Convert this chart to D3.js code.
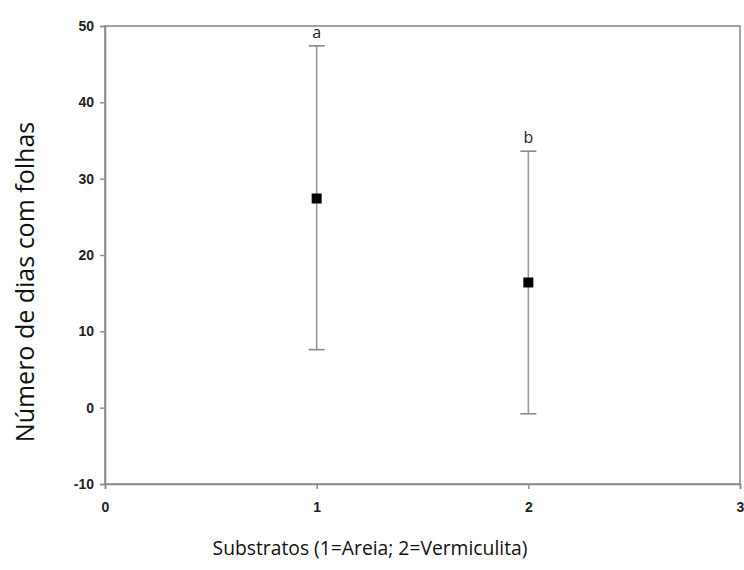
<!DOCTYPE html>
<html>
<head>
<meta charset="utf-8">
<script src="https://cdn.jsdelivr.net/npm/d3@7"></script>
<style>
  body { margin: 0; background: #fff; }
  svg { display: block; }
</style>
</head>
<body>
<svg id="chart"></svg>
<script>
const substrates = [1, 2];
const means = [27.4, 16.4];
const upper = [47.4, 33.6];
const lower = [7.6, -0.8];
const letters = ["a", "b"];
const xTicks = [0, 1, 2, 3];
const yTicks = [-10, 0, 10, 20, 30, 40, 50];

const W = 744, H = 570;
const margin = { top: 26, right: 4, bottom: 86, left: 105 };
const width = W - margin.left - margin.right;
const height = H - margin.top - margin.bottom;

const svg = d3.select("#chart").attr("width", W).attr("height", H);
const g = svg.append("g").attr("transform", `translate(${margin.left},${margin.top})`);

const xScale = d3.scaleLinear().domain([0, 3]).range([0, width]);
const yScale = d3.scaleLinear().domain([-10, 50]).range([height, 0]);

const axisColor = "#8c8c8c";

// frame
g.append("rect")
  .attr("width", width)
  .attr("height", height)
  .attr("fill", "none")
  .attr("stroke", axisColor)
  .attr("stroke-width", 1.6);

const xAxis = d3.axisBottom(xScale).tickValues(xTicks).tickSize(5).tickFormat((d) => String(d));
const yAxis = d3.axisLeft(yScale).tickValues(yTicks).tickSize(5).tickFormat((d) => String(d));

const xg = g.append("g").attr("transform", `translate(0,${height})`).call(xAxis);
const yg = g.append("g").call(yAxis);

[xg, yg].forEach((ax) => {
  ax.select(".domain").attr("stroke", axisColor).attr("stroke-width", 1.6);
  ax.selectAll(".tick line").attr("stroke", axisColor).attr("stroke-width", 1.4);
  ax.selectAll(".tick text")
    .attr("fill", "#222")
    .style("font-family", "Liberation Sans, Arial, sans-serif")
    .style("font-size", "14px")
    .style("font-weight", "bold");
});
xg.selectAll(".tick text").attr("dy", "1.45em");
yg.selectAll(".tick text").attr("x", -11);

// error bars
const capW = 8;
const bars = g.selectAll(".err").data(substrates).enter().append("g").attr("class", "err");
bars.append("line")
  .attr("x1", (d) => xScale(d)).attr("x2", (d) => xScale(d))
  .attr("y1", (d, i) => yScale(upper[i])).attr("y2", (d, i) => yScale(lower[i]))
  .attr("stroke", "#999").attr("stroke-width", 1.6);
bars.append("line")
  .attr("x1", (d) => xScale(d) - capW).attr("x2", (d) => xScale(d) + capW)
  .attr("y1", (d, i) => yScale(upper[i])).attr("y2", (d, i) => yScale(upper[i]))
  .attr("stroke", "#888").attr("stroke-width", 1.6);
bars.append("line")
  .attr("x1", (d) => xScale(d) - capW).attr("x2", (d) => xScale(d) + capW)
  .attr("y1", (d, i) => yScale(lower[i])).attr("y2", (d, i) => yScale(lower[i]))
  .attr("stroke", "#888").attr("stroke-width", 1.6);

// mean markers
const sq = 10;
g.selectAll(".mean").data(substrates).enter().append("rect")
  .attr("class", "mean")
  .attr("x", (d) => xScale(d) - sq / 2)
  .attr("y", (d, i) => yScale(means[i]) - sq / 2)
  .attr("width", sq).attr("height", sq)
  .attr("fill", "#000");

// significance letters
g.selectAll(".letter").data(substrates).enter().append("text")
  .attr("class", "letter")
  .attr("x", (d) => xScale(d))
  .attr("y", (d, i) => yScale(upper[i]) - 8)
  .attr("text-anchor", "middle")
  .style("font-family", "Open Sans, sans-serif")
  .style("font-size", "16px")
  .attr("fill", "#222")
  .text((d, i) => letters[i]);

// axis titles
svg.append("text")
  .attr("x", 370)
  .attr("y", 555)
  .attr("text-anchor", "middle")
  .style("font-family", "Open Sans, sans-serif")
  .style("font-size", "19.3px")
  .attr("fill", "#111")
  .text("Substratos (1=Areia; 2=Vermiculita)");

svg.append("text")
  .attr("transform", "translate(34,282) rotate(-90)")
  .attr("text-anchor", "middle")
  .style("font-family", "Open Sans, sans-serif")
  .style("font-size", "25px")
  .attr("fill", "#111")
  .text("Número de dias com folhas");
</script>
</body>
</html>
